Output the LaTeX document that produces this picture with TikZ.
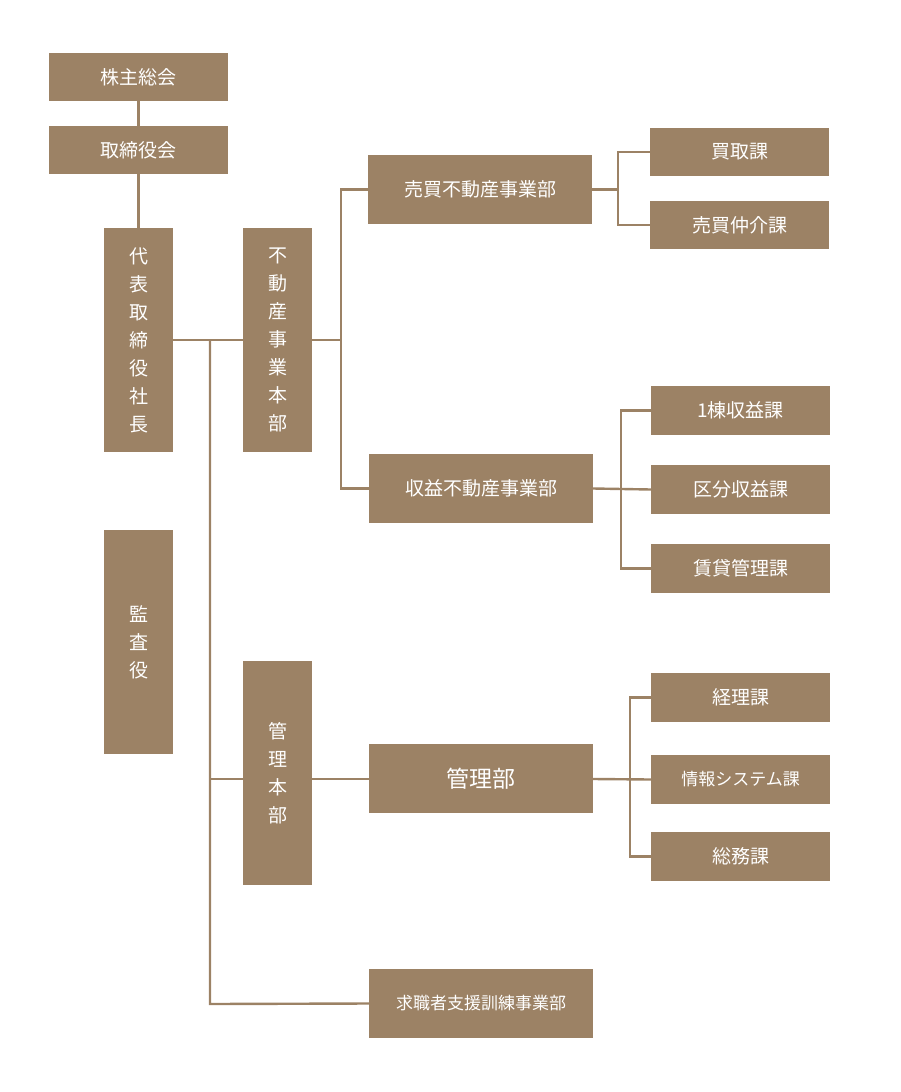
\documentclass[tikz,border=0pt]{standalone}
\usepackage{fontspec}
\newfontfamily\jp{Noto Sans CJK JP}
\definecolor{br}{RGB}{156,130,101}
\tikzset{
 bx/.style={fill=br,draw=none,text=white,font=\jp\fontsize{19}{28}\selectfont,inner sep=0pt,align=center},
 ln/.style={draw=br,line width=2.4pt}
}
\newcommand{\mkbox}[6]{\node[bx,#6,minimum width=#3-#1,minimum height=#4-#2] (#5) at ({(#1+#3)/2},{(#2+#4)/2}) {};}
\begin{document}
\begin{tikzpicture}[x=1pt,y=-1pt]
\useasboundingbox (0,0) rectangle (900,1092);
\node[bx,minimum width=179,minimum height=48] (kabu) at (138.5,77) {株主総会};
\node[bx,minimum width=179,minimum height=48] (tori) at (138.5,150) {取締役会};
\node[bx,minimum width=69,minimum height=224] (dai) at (138.5,340) {代\\表\\取\\締\\役\\社\\長};
\node[bx,minimum width=69,minimum height=224] (kan) at (138.5,642) {監\\査\\役};
\node[bx,minimum width=69,minimum height=224] (fhon) at (277.5,340) {不\\動\\産\\事\\業\\本\\部};
\node[bx,minimum width=69,minimum height=224] (khon) at (277.5,773) {管\\理\\本\\部};
\node[bx,minimum width=224,minimum height=69] (bai) at (480,189.5) {売買不動産事業部};
\node[bx,minimum width=224,minimum height=69] (shu) at (481,488.5) {収益不動産事業部};
\node[bx,minimum width=224,minimum height=69,font=\jp\fontsize{23}{28}\selectfont] (kanri) at (481,778.5) {管理部};
\node[bx,minimum width=224,minimum height=69,font=\jp\fontsize{17}{20}\selectfont] (kyu) at (481,1003.5) {求職者支援訓練事業部};
\node[bx,minimum width=179,minimum height=48] (kai) at (739.5,152) {買取課};
\node[bx,minimum width=179,minimum height=48] (chu) at (739.5,225) {売買仲介課};
\node[bx,minimum width=179,minimum height=49] (ito) at (740.5,410.5) {1棟収益課};
\node[bx,minimum width=179,minimum height=49] (kub) at (740.5,489.5) {区分収益課};
\node[bx,minimum width=179,minimum height=49] (chin) at (740.5,568.5) {賃貸管理課};
\node[bx,minimum width=179,minimum height=49] (kei) at (740.5,697.5) {経理課};
\node[bx,minimum width=179,minimum height=49,font=\jp\fontsize{17}{20}\selectfont] (jo) at (740.5,779.5) {情報システム課};
\node[bx,minimum width=179,minimum height=49] (som) at (740.5,856.5) {総務課};
\draw[ln] (kabu) -- (tori);
\draw[ln] (tori) -- (dai);
\draw[ln] (dai.east) -- (fhon.west);
\draw[ln] (210,340) -- (210,1004) -- (kyu.west);
\draw[ln] (210,779) -- (243,779);
\draw[ln] (312,779) -- (kanri.west|-0,779);
\draw[ln] (fhon.east) -- (341,340);
\draw[ln] (bai.west) -- (341,189.5) -- (341,488.5) -- (shu.west);
\draw[ln] (bai.east) -- (618,189.5);
\draw[ln] (kai.west) -- (618,152) -- (618,225) -- (chu.west);
\draw[ln] (shu.east) -- (kub.west);
\draw[ln] (ito.west) -- (621,410.5) -- (621,568.5) -- (chin.west);
\draw[ln] (kanri.east|-0,779) -- (jo.west);
\draw[ln] (kei.west) -- (630,697.5) -- (630,856.5) -- (som.west);
\end{tikzpicture}
\end{document}
